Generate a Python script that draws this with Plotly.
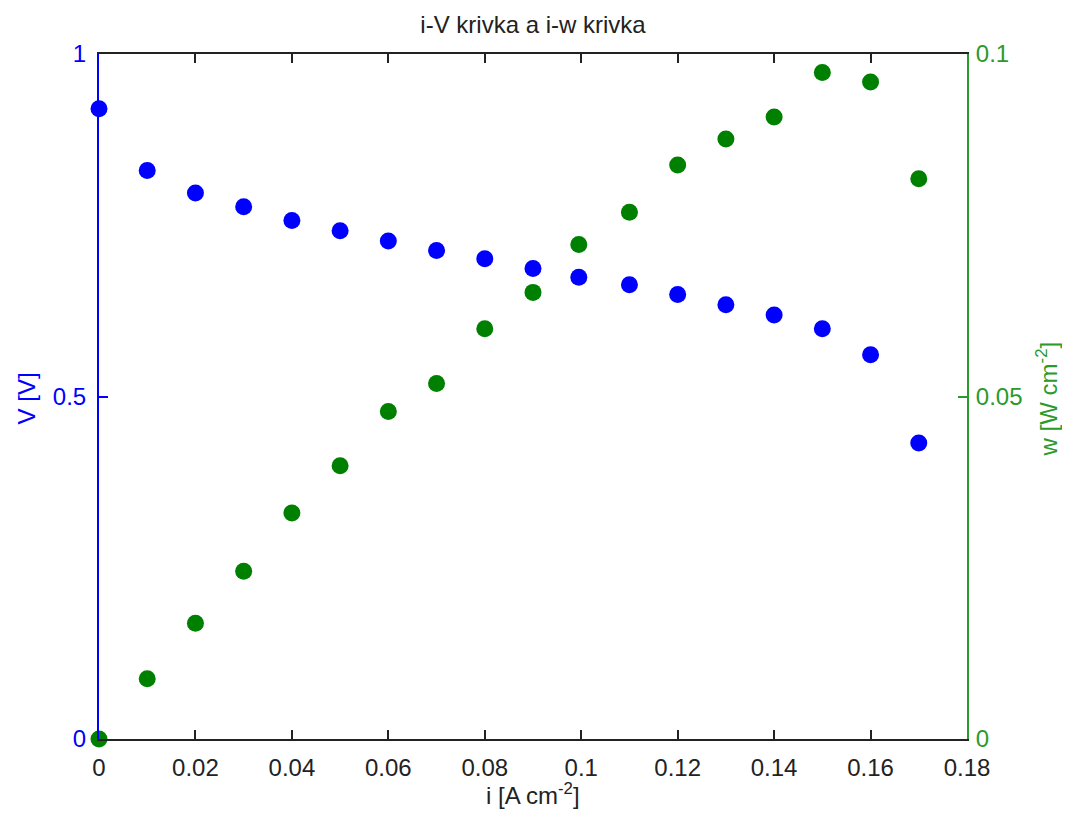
import plotly.graph_objects as go

# Data
current = [0.0, 0.01, 0.02, 0.03, 0.04, 0.05, 0.06, 0.07, 0.08, 0.09,
           0.0995, 0.11, 0.12, 0.13, 0.14, 0.15, 0.16, 0.17]
voltage = [0.920, 0.830, 0.797, 0.777, 0.757, 0.742, 0.727, 0.713, 0.701, 0.687,
           0.674, 0.663, 0.649, 0.634, 0.619, 0.599, 0.561, 0.432]
power = [0.0, 0.0088, 0.0169, 0.0245, 0.0330, 0.0399, 0.0478, 0.0519, 0.0599, 0.0652,
         0.0722, 0.0769, 0.0838, 0.0876, 0.0908, 0.0973, 0.0959, 0.0818]

x_ticks = [0, 0.02, 0.04, 0.06, 0.08, 0.1, 0.12, 0.14, 0.16, 0.18]
x_ticklabels = ["0", "0.02", "0.04", "0.06", "0.08", "0.1", "0.12", "0.14", "0.16", "0.18"]
v_ticks = [0, 0.5, 1]
v_ticklabels = ["0", "0.5", "1"]
w_ticks = [0, 0.05, 0.1]
w_ticklabels = ["0", "0.05", "0.1"]

BLUE = "#0000FF"
GREEN = "#008000"
GREEN_AX = "#2a9a2a"
FONT = "Liberation Sans"
FS = 24

# page body has an 8px margin, so the figure is 16px smaller than the window
W, H = 1054, 801
OFF = 8

fig = go.Figure()
fig.add_trace(go.Scatter(x=current, y=voltage, mode="markers",
                         marker=dict(color=BLUE, size=17, symbol="circle"),
                         yaxis="y", showlegend=False, cliponaxis=False))
fig.add_trace(go.Scatter(x=current, y=power, mode="markers",
                         marker=dict(color=GREEN, size=17, symbol="circle"),
                         yaxis="y2", showlegend=False, cliponaxis=False))

fig.update_layout(
    width=W, height=H,
    margin=dict(l=99 - OFF, r=W - (967 - OFF), t=54 - OFF, b=H - (739 - OFF), pad=0),
    plot_bgcolor="white", paper_bgcolor="white",
    font=dict(family=FONT, size=FS, color="#000000"),
    title=dict(text="i-V krivka a i-w krivka", x=(533 - OFF) / W, xanchor="center",
               xref="container", yref="container", y=1 - (25 - OFF) / H, yanchor="middle",
               font=dict(family=FONT, size=FS, color="#222222")),
    xaxis=dict(range=[0, 0.18], tickvals=x_ticks, ticktext=x_ticklabels,
               showline=True, linecolor="#222222", linewidth=2, mirror="ticks",
               ticks="inside", ticklen=9, tickwidth=2, tickcolor="#222222",
               showgrid=False, zeroline=False, ticklabelstandoff=6,
               tickfont=dict(family=FONT, size=FS, color="#222222")),
    yaxis=dict(range=[0, 1], tickvals=v_ticks, ticktext=v_ticklabels,
               showline=True, linecolor=BLUE, linewidth=2, mirror=False,
               ticks="inside", ticklen=9, tickwidth=2, tickcolor=BLUE,
               showgrid=False, zeroline=False, ticklabelstandoff=6,
               tickfont=dict(family=FONT, size=FS, color=BLUE)),
    yaxis2=dict(range=[0, 0.1], tickvals=w_ticks, ticktext=w_ticklabels,
                overlaying="y", side="right", anchor="x",
                showline=True, linecolor=GREEN_AX, linewidth=2,
                ticks="inside", ticklen=9, tickwidth=2, tickcolor=GREEN_AX,
                showgrid=False, zeroline=False, ticklabelstandoff=2,
                tickfont=dict(family=FONT, size=FS, color=GREEN_AX)),
)

# Axis titles
fig.add_annotation(text="i [A cm<sup>-2</sup>]", xref="paper", yref="paper",
                   x=0.5, y=(739.3 - 794) / 685, xanchor="center", yanchor="middle",
                   showarrow=False, font=dict(family=FONT, size=FS, color="#222222"))
fig.add_annotation(text="V [V]", xref="paper", yref="paper",
                   x=(27 - 99.3) / 868, y=(739.3 - 399) / 685, xanchor="center", yanchor="middle",
                   textangle=-90, showarrow=False, font=dict(family=FONT, size=FS, color=BLUE))
fig.add_annotation(text="w [W cm<sup>-2</sup>]", xref="paper", yref="paper",
                   x=(1047 - 99.3) / 868, y=(739.3 - 399) / 685, xanchor="center", yanchor="middle",
                   textangle=-90, showarrow=False, font=dict(family=FONT, size=FS, color=GREEN_AX))

fig.write_html("out.html")
